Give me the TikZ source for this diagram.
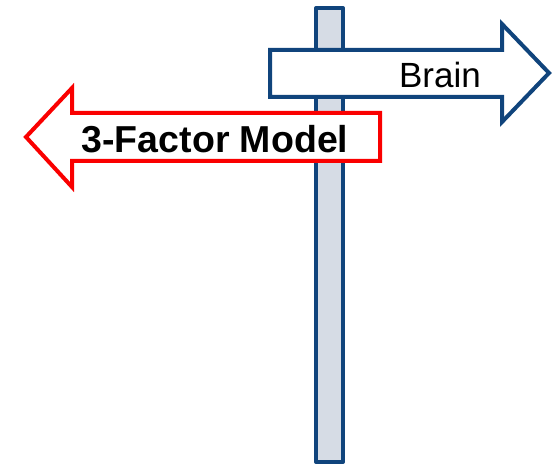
\documentclass[tikz,border=0pt]{standalone}
\usepackage{fontspec}
\setmainfont{Liberation Sans}
\definecolor{postblue}{RGB}{16,68,124}
\definecolor{postfill}{RGB}{214,220,229}
\definecolor{signred}{RGB}{250,0,0}
\begin{document}
\begin{tikzpicture}[x=1pt,y=-1pt,
  pole/.style={draw=postblue,fill=postfill,line width=4pt,line join=round},
  bluesign/.style={draw=postblue,fill=white,line width=4pt,line join=miter},
  redsign/.style={draw=signred,fill=white,line width=4pt,line join=miter},
  signtext/.style={inner sep=0pt,text=black}]
\useasboundingbox (0,0) rectangle (556,465);
% post
\draw[pole] (316,8) rectangle (343,462);
% sign pointing right
\draw[bluesign] (270,50) -- (502,50) -- (502,24) -- (549,73) -- (502,122) -- (502,97) -- (270,97) -- cycle;
\node[signtext,font=\fontsize{35}{35}\selectfont] (brain) at (440,75) {Brain};
% sign pointing left
\draw[redsign] (380,113) -- (72,113) -- (72,88) -- (26,137) -- (72,187) -- (72,161) -- (380,161) -- cycle;
\node[signtext,font=\fontsize{37.5}{37.5}\selectfont\bfseries] (model) at (215,139) {3-Factor Model};
\end{tikzpicture}
\end{document}
